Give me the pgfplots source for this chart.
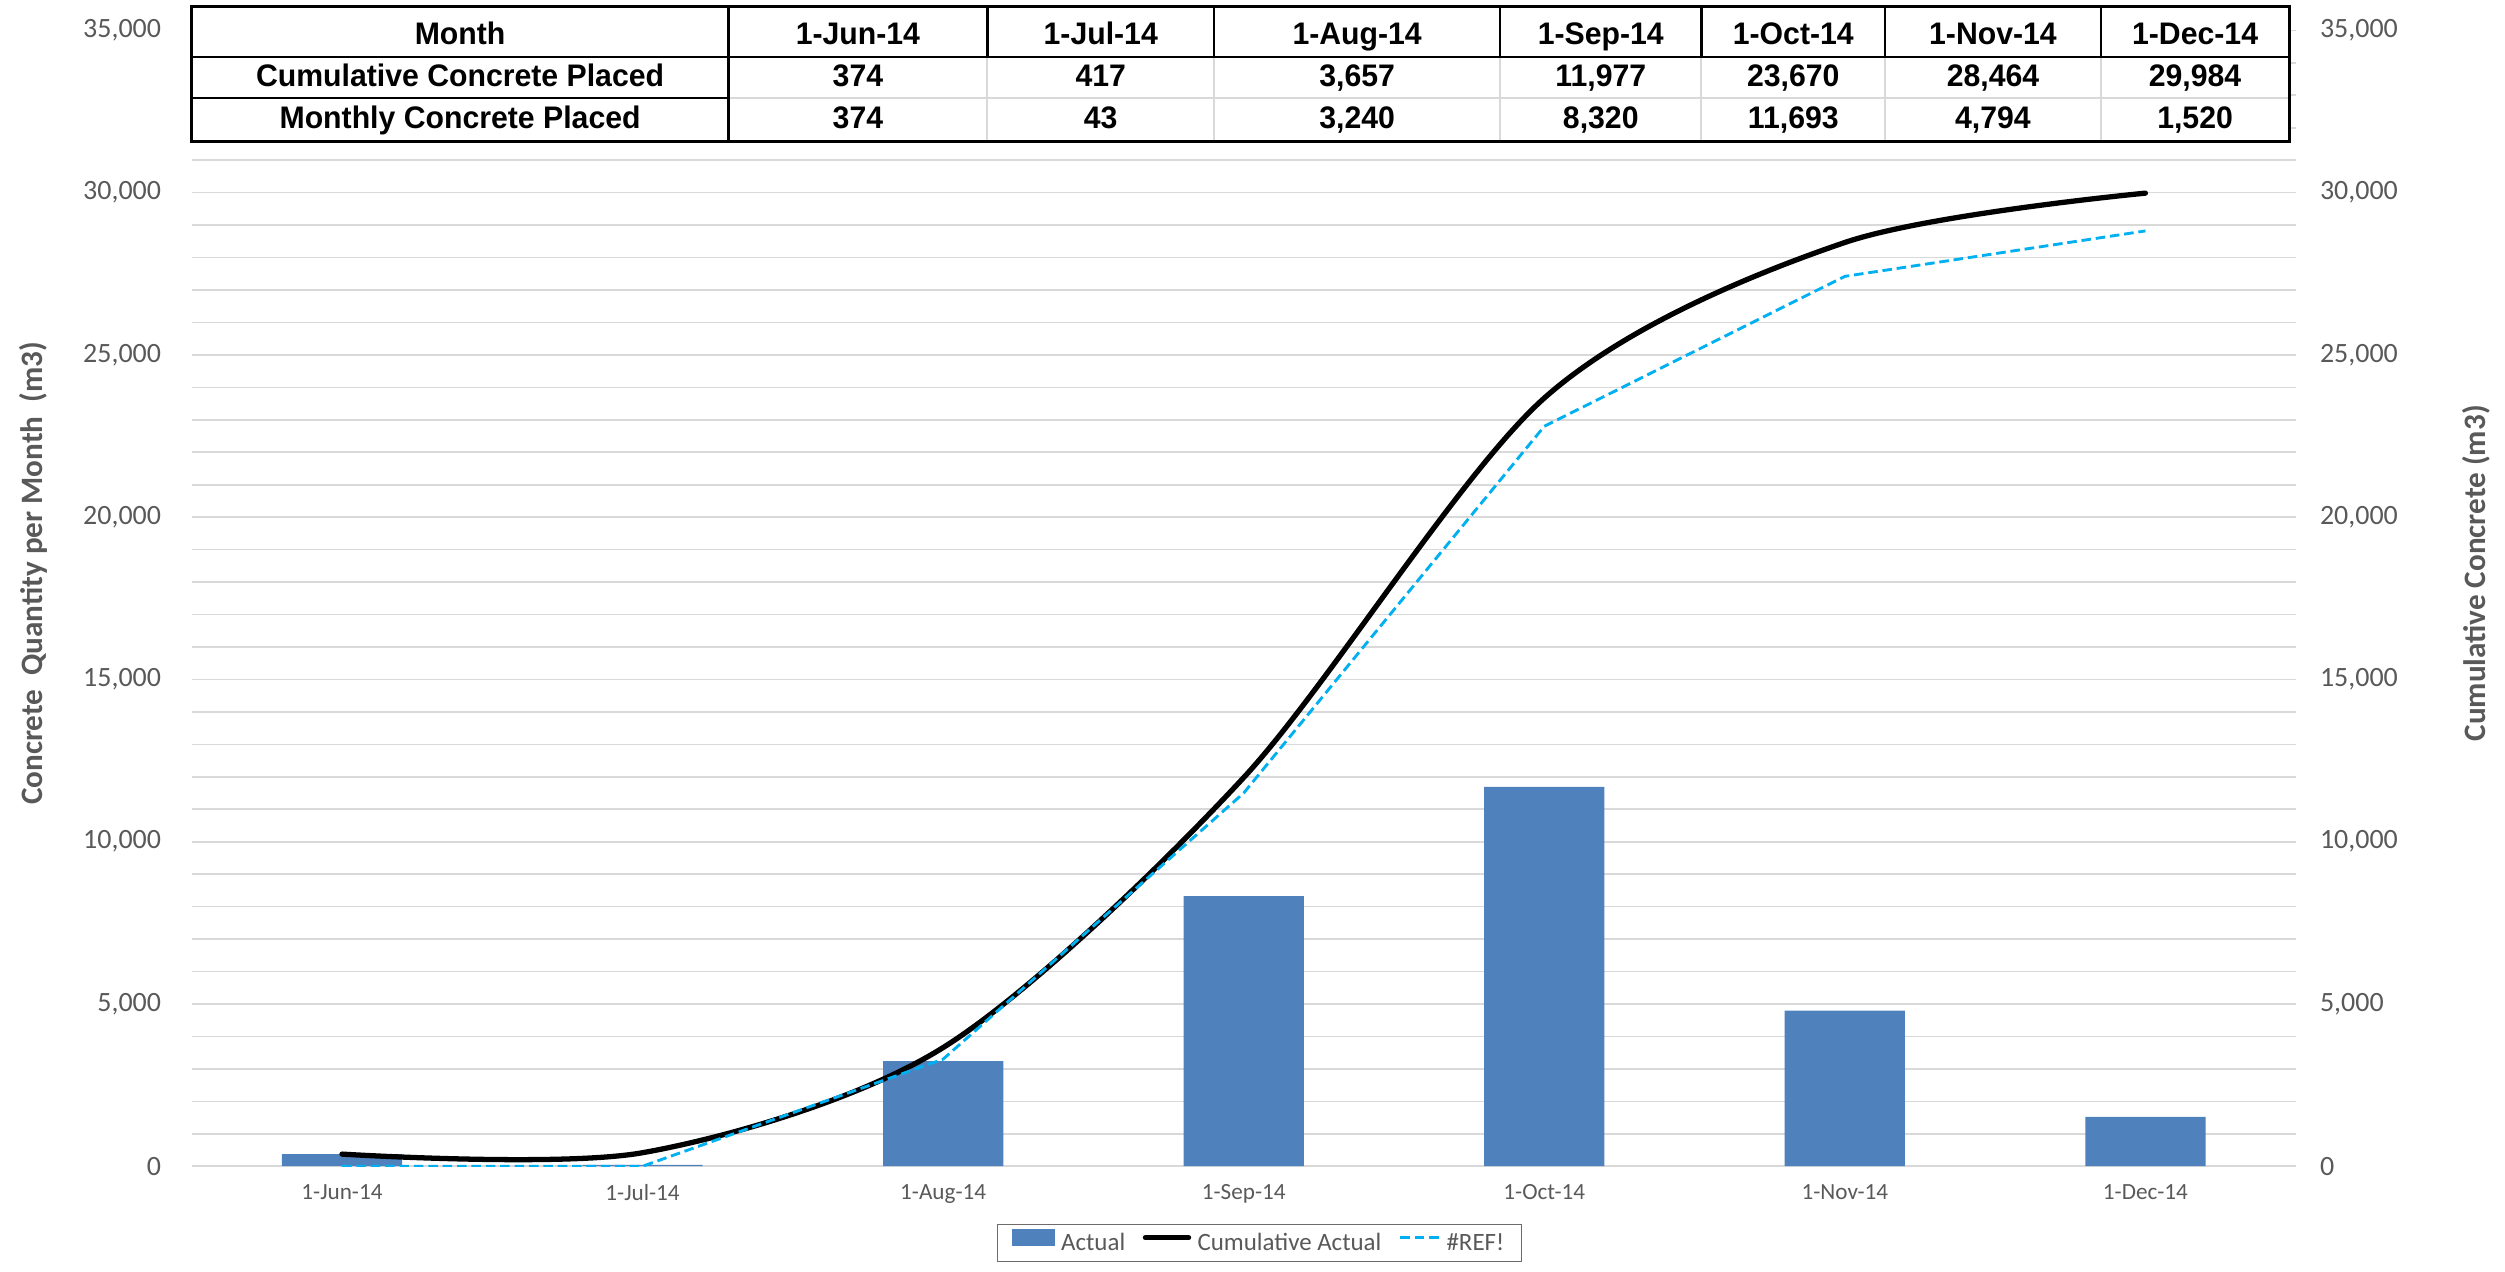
\documentclass[border=0pt]{standalone}
\usepackage{pgfplots}
\pgfplotsset{compat=1.18}
\usepackage{fontspec}
\setmainfont{Carlito}
\newfontfamily\tabfont[FakeStretch=0.97]{Liberation Sans}
\definecolor{barblue}{HTML}{4F81BD}
\definecolor{refblue}{HTML}{00B0F0}
\definecolor{txtgray}{HTML}{595959}
\definecolor{gridgray}{HTML}{D9D9D9}
\newcommand{\tf}{\tabfont\bfseries\fontsize{19.5}{21}\selectfont}

\begin{document}
\begin{tikzpicture}[x=1pt,y=1pt]
\useasboundingbox (-120,-66.2) rectangle (1448,730);
\begin{axis}[
  at={(0,0)}, anchor=south west,
  scale only axis, width=1317pt, height=711pt,
  xmin=-0.5, xmax=6.5, ymin=0, ymax=35000,
  axis line style={draw=none}, tick style={draw=none},
  xtick={0,...,6},
  xticklabels={1-Jun-14,1-Jul-14,1-Aug-14,1-Sep-14,1-Oct-14,1-Nov-14,1-Dec-14},
  xticklabel style={font=\fontsize{14.5}{16}\selectfont, text=txtgray, inner sep=0pt, yshift=-11pt, anchor=north},
  ytick={0,5000,...,35000},
  minor y tick num=4,
  ymajorgrids, yminorgrids,
  major grid style={gridgray, line width=1pt},
  minor grid style={gridgray, line width=1pt},
  scaled y ticks=false,
  /pgf/number format/1000 sep={,},
  /pgf/number format/assume math mode=true,
  yticklabel style={font=\fontsize{17.5}{20}\selectfont, text=txtgray, inner sep=0pt, xshift=-19pt, anchor=east},
  ylabel={Concrete~~Quantity per Month~~(m3)},
  ylabel style={at={(axis description cs:-0.0752,0.522)}, anchor=center, font=\bfseries\fontsize{19.5}{22}\selectfont, text=txtgray},
]
\addplot[ybar, bar width=0.4, fill=barblue, draw=none] coordinates {(0,374) (1,43) (2,3240) (3,8320) (4,11693) (5,4794) (6,1520)};
\end{axis}
\begin{axis}[
  at={(0,0)}, anchor=south west,
  scale only axis, width=1317pt, height=711pt,
  xmin=-0.5, xmax=6.5, ymin=0, ymax=35000,
  axis line style={draw=none}, tick style={draw=none},
  xtick=\empty,
  ytick={0,5000,...,35000},
  yticklabel pos=right,
  scaled y ticks=false,
  /pgf/number format/1000 sep={,},
  /pgf/number format/assume math mode=true,
  yticklabel style={font=\fontsize{17.5}{20}\selectfont, text=txtgray, inner sep=0pt, xshift=15pt, anchor=west},
  ylabel={Cumulative Concrete (m3)},
  ylabel style={at={(axis description cs:1.0858,0.522)}, anchor=center, font=\bfseries\fontsize{19.5}{22}\selectfont, text=txtgray},
  legend columns=3,
  legend style={at={(axis description cs:0.5076,-0.0675)}, anchor=center, draw=gray!85!black, line width=0.8pt,
    font=\fontsize{15.6}{18}\selectfont, text=txtgray, inner xsep=9pt, inner ysep=3pt,
    /tikz/every odd column/.append style={column sep=2pt},
    /tikz/every even column/.append style={column sep=9pt}},
]
\addlegendimage{legend image code/.code={\fill[barblue] (0pt,-1pt) rectangle (26pt,8.4pt);}}
\addlegendentry{Actual}
\addplot[black, line width=3.3pt, line cap=round, smooth,
  legend image code/.code={\draw[black, line width=3.3pt, line cap=round] (0pt,3.6pt) -- (27pt,3.6pt);}]
  coordinates {(0,374) (1,417) (2,3657) (3,11977) (4,23670) (5,28464) (6,29984)};
\addlegendentry{Cumulative Actual}
\addplot[refblue, line width=1.8pt, dash pattern=on 6pt off 3pt,
  legend image code/.code={\draw[refblue, line width=1.8pt, dash pattern=on 6pt off 3pt] (0pt,3.6pt) -- (24pt,3.6pt);}]
  coordinates {(0,0) (1,0) (2,3300) (3,11500) (4,22800) (5,27420) (6,28820)};
\addlegendentry{\#REF!}
\end{axis}
% data table above the plot
\fill[white] (0,641.3) rectangle (1313,725.8);
\draw[gridgray, line width=1.3pt] (336,668.5) -- (1313,668.5);
\foreach \x in {498,640,819,945,1060,1195} {\draw[gridgray, line width=1.3pt] (\x,641.3) -- (\x,694.5);}
\draw[line width=1.5pt] (0,694.5) -- (1313,694.5);
\draw[line width=1.5pt] (0,668.5) -- (336,668.5);
\draw[line width=1.5pt] (336,641.3) -- (336,725.8);
\foreach \x in {498,640,819,945,1060,1195} {\draw[line width=1.5pt] (\x,694.5) -- (\x,725.8);}
\draw[line width=2.2pt] (0,641.3) rectangle (1313,725.8);
\foreach \x/\a/\b/\c in {168/Month/Cumulative Concrete Placed/Monthly Concrete Placed,
  417/1-Jun-14/374/374, 569/1-Jul-14/417/43, 729.5/1-Aug-14/{3,657}/{3,240},
  882/1-Sep-14/{11,977}/{8,320}, 1002.5/1-Oct-14/{23,670}/{11,693},
  1127.5/1-Nov-14/{28,464}/{4,794}, 1254/1-Dec-14/{29,984}/{1,520}} {
  \node[anchor=base, inner sep=0pt, font=\tf] at (\x,702.4) {\a};
  \node[anchor=base, inner sep=0pt, font=\tf] at (\x,676.0) {\b};
  \node[anchor=base, inner sep=0pt, font=\tf] at (\x,649.8) {\c};
}
\end{tikzpicture}
\end{document}
